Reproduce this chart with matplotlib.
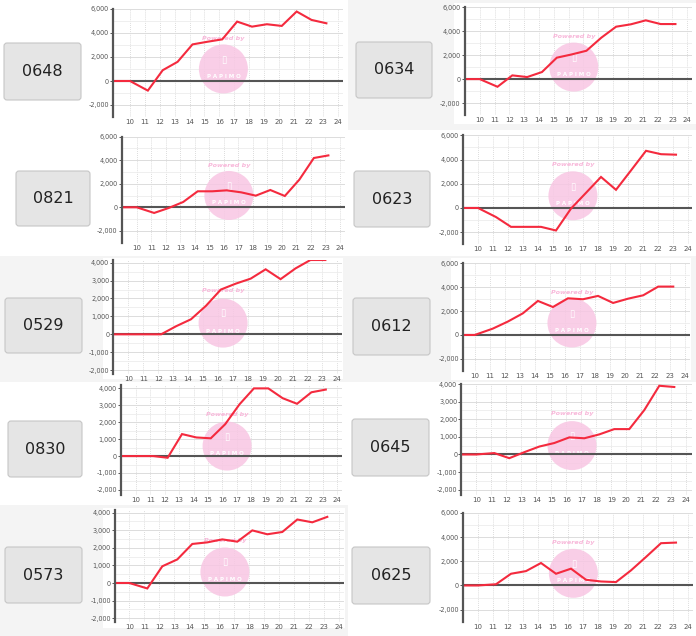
import matplotlib.pyplot as plt
from matplotlib.patches import FancyBboxPatch, Rectangle, Ellipse

W, H = 696, 636

# horas de cada ponto (o primeiro fica na borda do eixo)
horas = [8.9, 10.0, 11.2, 12.2, 13.2, 14.2, 15.2, 16.2, 17.2, 18.2, 19.2, 20.2, 21.2, 22.2, 23.2]
codigos = ['0648', '0634', '0821', '0623', '0529', '0612', '0830', '0645', '0573', '0625']

v0648 = [0, 0, -800, 900, 1600, 3050, 3270, 3470, 4950, 4530, 4730, 4590, 5790, 5090, 4810]
v0634 = [0, 0, -640, 310, 170, 590, 1790, 2060, 2370, 3460, 4380, 4580, 4910, 4600, 4600]
v0821 = [0, 0, -480, -60, 450, 1360, 1360, 1440, 1270, 990, 1470, 960, 2350, 4190, 4410]
v0623 = [0, 0, -750, -1560, -1560, -1560, -1860, -50, 1250, 2560, 1500, 3100, 4720, 4440, 4400]
v0529 = [0, 0, 0, 0, 450, 840, 1590, 2500, 2830, 3110, 3630, 3080, 3680, 4150, 4150]
v0612 = [0, 0, 530, 1120, 1810, 2850, 2340, 3070, 2990, 3270, 2680, 3040, 3320, 4050, 4050]
v0830 = [0, 0, 0, -100, 1300, 1100, 1050, 1880, 3060, 4000, 4000, 3420, 3090, 3770, 3930]
v0645 = [0, 0, 80, -210, 130, 450, 650, 970, 920, 1140, 1440, 1440, 2520, 3900, 3830]
v0573 = [0, 0, -310, 950, 1340, 2220, 2310, 2480, 2350, 2990, 2770, 2900, 3610, 3450, 3760]
v0625 = [0, 0, 100, 970, 1190, 1860, 970, 1390, 470, 330, 280, 1250, 2360, 3500, 3550]
series = [v0648, v0634, v0821, v0623, v0529, v0612, v0830, v0645, v0573, v0625]

# limites do eixo y e passo das marcas principais
ylims = [(-3000, 6000), (-3000, 6000), (-3000, 6000), (-3000, 6000), (-2200, 4150),
         (-3000, 6000), (-2300, 4200), (-2300, 4000), (-2200, 4150), (-3000, 6000)]
passos = [2000, 2000, 2000, 2000, 1000, 2000, 1000, 1000, 1000, 2000]

# layout em pixels: (esq, dir, topo, base, x da marca 10, x da marca 24)
caixas = [(113, 343, 9, 117, 130, 338.3), (464.7, 692, 7.3, 115, 479.7, 687.3),
          (121.7, 345, 136.7, 242.6, 136.7, 340), (463, 692, 135.3, 244.3, 478, 688),
          (113.3, 342, 260, 373.7, 128.3, 337.3), (463, 690, 263.3, 370.8, 474.7, 685.3),
          (121, 342, 385, 495, 136, 337.3), (461.3, 692, 384, 495, 476.3, 686.3),
          (115, 344, 510, 621.7, 129.3, 339.3), (463, 693, 513, 621.7, 478, 688)]
botoes = [(4, 43, 81, 100), (356, 42, 432, 98), (16, 171, 90, 226), (354, 171, 430, 227),
          (5, 298, 82, 353), (353, 298, 430, 355), (8, 421, 82, 477), (352, 419, 429, 476),
          (5, 547, 82, 603), (352, 547, 430, 604)]
fundos_cinza = [(348, 0, 696, 130), (0, 256, 348, 382), (348, 256, 696, 382), (0, 505, 348, 636)]
areas_brancas = [(454, 3, 696, 124), (103, 258, 343, 379), (451, 258, 691, 380), (103, 508, 345, 628)]

fig = plt.figure(figsize=(W / 100, H / 100), dpi=100)
fig.patch.set_facecolor('white')

# fundo em coordenadas de pixel
bg = fig.add_axes([0, 0, 1, 1])
bg.set_xlim(0, W)
bg.set_ylim(H, 0)
bg.axis('off')
for x0, y0, x1, y1 in fundos_cinza:
    bg.add_patch(Rectangle((x0, y0), x1 - x0, y1 - y0, facecolor='#f4f4f4', edgecolor='none'))
for x0, y0, x1, y1 in areas_brancas:
    bg.add_patch(Rectangle((x0, y0), x1 - x0, y1 - y0, facecolor='white', edgecolor='none'))
for (x0, y0, x1, y1), cod in zip(botoes, codigos):
    bg.add_patch(FancyBboxPatch((x0 + 3, y0 + 3), x1 - x0 - 6, y1 - y0 - 6,
                                boxstyle='round,pad=3', facecolor='#e5e5e5',
                                edgecolor='#c6c6c6', linewidth=0.8))
    bg.text((x0 + x1) / 2, (y0 + y1) / 2, cod, ha='center', va='center',
            fontsize=11.5, color='#222222')

for cod, vals, (ymin, ymax), passo, (L, R, T, B, t10, t24) in zip(
        codigos, series, ylims, passos, caixas):
    ax = fig.add_axes([L / W, 1 - B / H, (R - L) / W, (B - T) / H])
    unid = (t24 - t10) / 14
    ax.set_xlim(10 - (t10 - L) / unid, 24 + (R - t24) / unid)
    ax.set_ylim(ymin, ymax)
    ax.set_facecolor('white')

    # grade
    for h in range(10, 25):
        ax.axvline(h, color='#d0d0d0', lw=0.6, ls=(0, (1, 1.5)), zorder=1)
    y = -2000
    while y <= ymax:
        ax.axhline(y, color='#dcdcdc', lw=0.7, zorder=1)
        y += passo
    y = -2000 + passo / 2
    while y <= ymax:
        ax.axhline(y, color='#ececec', lw=0.6, zorder=1)
        y += passo

    # marca d'agua
    ax.add_patch(Ellipse((0.48, 0.445), 49 / (R - L), 49 / (B - T), transform=ax.transAxes,
                         facecolor='#f8c6e3', edgecolor='none', alpha=0.85, zorder=2))
    ax.text(0.48, 0.73, 'Powered by', transform=ax.transAxes, ha='center', va='center',
            fontsize=4.6, color='#f8b8da', fontweight='bold', style='italic', zorder=2)
    ax.text(0.48, 0.53, '\u25AF', transform=ax.transAxes, ha='center', va='center',
            fontsize=7, color='white', zorder=2)
    ax.text(0.48, 0.375, 'P A P I M O', transform=ax.transAxes, ha='center', va='center',
            fontsize=4, color='white', fontweight='bold', zorder=2)

    ax.axhline(0, color='#555555', lw=1.5, zorder=3)
    ax.plot(horas, vals, color='#f42a3e', lw=1.5, zorder=4, solid_joinstyle='miter')

    for s in ['top', 'right', 'bottom']:
        ax.spines[s].set_visible(False)
    ax.spines['left'].set_color('#555555')
    ax.spines['left'].set_linewidth(1.6)
    ax.spines['left'].set_zorder(5)

    yt = list(range(-2000, int(ymax) + 1, passo))
    ax.set_yticks(yt)
    ax.set_yticklabels([f'{v:,}' for v in yt])
    ax.set_xticks(range(10, 25))
    ax.tick_params(axis='y', labelsize=4.7, colors='#555555', length=2, width=0.7, pad=1)
    ax.tick_params(axis='x', labelsize=5, colors='#555555', length=0, pad=1.5)

fig.savefig('out.png', dpi=100, facecolor='white')
